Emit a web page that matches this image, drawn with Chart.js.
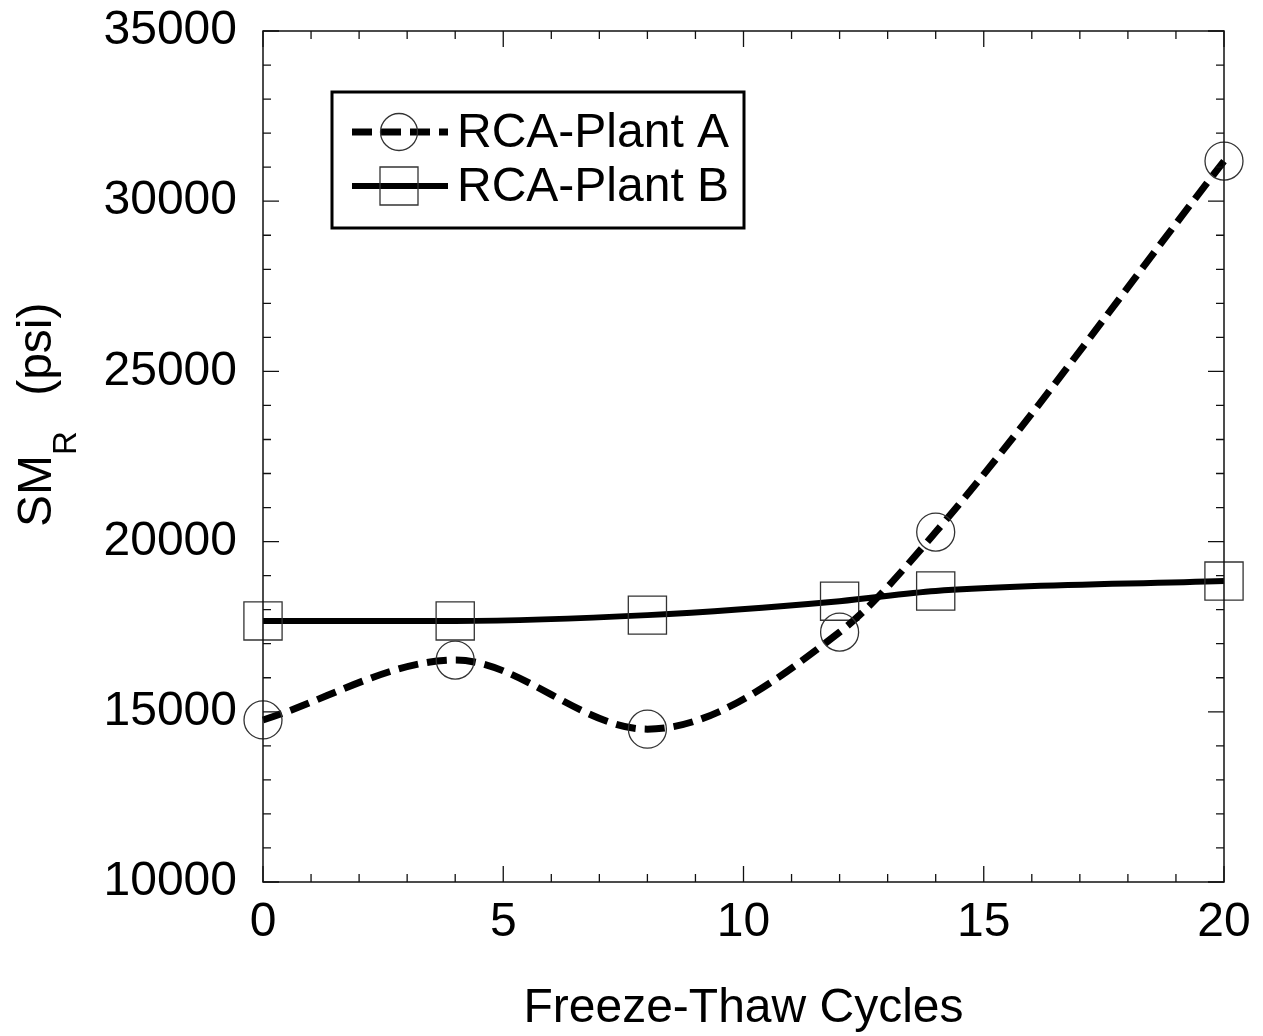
<!DOCTYPE html>
<html>
<head>
<meta charset="utf-8">
<script src="https://cdn.jsdelivr.net/npm/chart.js@4.4.0/dist/chart.umd.min.js"></script>
<style>
  html, body { margin: 0; padding: 0; background: #fff; }
  #wrap { width: 1263px; height: 1036px; }
</style>
</head>
<body>
<div id="wrap"><canvas id="smrChart" width="1263" height="1036"></canvas></div>
<script>
var cycles = [0, 4, 8, 12, 14, 20];
var plantA = [14760, 16520, 14490, 17340, 20280, 31180];
var plantB = [17670, 17670, 17840, 18250, 18550, 18840];
var seriesNames = ['RCA-Plant A', 'RCA-Plant B'];
var xTitle = 'Freeze-Thaw Cycles';
var yTitleMain = 'SM';
var yTitleSub = 'R';
var yTitleTail = ' (psi)';

var FONT = "'Liberation Sans', Arial, sans-serif";
var FS = 48;

function toPoints(ys) {
  return cycles.map(function (c, i) { return { x: c, y: ys[i] }; });
}

// ticks on all four sides, pointing in, plus the box and the titles
var framePlugin = {
  id: 'frame',
  afterDraw: function (chart) {
    var ctx = chart.ctx;
    var a = chart.chartArea;
    var xs = chart.scales.x, ys = chart.scales.y;
    ctx.save();
    ctx.strokeStyle = '#111';
    ctx.lineWidth = 1.5;
    ctx.strokeRect(a.left, a.top, a.right - a.left, a.bottom - a.top);

    ctx.lineWidth = 1.3;
    ctx.beginPath();
    for (var v = 0; v <= 20; v++) {
      var px = xs.getPixelForValue(v);
      var len = (v % 5 === 0) ? 16 : 8;
      ctx.moveTo(px, a.bottom); ctx.lineTo(px, a.bottom - len);
      ctx.moveTo(px, a.top); ctx.lineTo(px, a.top + len);
    }
    for (var w = 10000; w <= 35000; w += 1000) {
      var py = ys.getPixelForValue(w);
      var l2 = (w % 5000 === 0) ? 16 : 8;
      ctx.moveTo(a.left, py); ctx.lineTo(a.left + l2, py);
      ctx.moveTo(a.right, py); ctx.lineTo(a.right - l2, py);
    }
    ctx.stroke();

    // x title
    ctx.fillStyle = '#000';
    ctx.font = FS + 'px ' + FONT;
    ctx.textAlign = 'center';
    ctx.textBaseline = 'alphabetic';
    ctx.fillText(xTitle, (a.left + a.right) / 2, 1022);

    // y title with subscript
    ctx.translate(51, 527);
    ctx.rotate(-Math.PI / 2);
    ctx.textAlign = 'left';
    ctx.font = FS + 'px ' + FONT;
    ctx.fillText(yTitleMain, 0, 0);
    var w1 = ctx.measureText(yTitleMain).width;
    ctx.font = '33px ' + FONT;
    ctx.fillText(yTitleSub, w1, 25);
    var w2 = ctx.measureText(yTitleSub).width + 22;
    ctx.font = FS + 'px ' + FONT;
    ctx.fillText(yTitleTail, w1 + w2, 0);
    ctx.restore();

    // legend
    ctx.save();
    ctx.strokeStyle = '#000';
    ctx.lineWidth = 3;
    ctx.strokeRect(332, 92, 412, 136);
    var rows = [132, 186];
    chart.data.datasets.forEach(function (ds, i) {
      var ry = rows[i];
      ctx.beginPath();
      ctx.lineWidth = ds.borderWidth;
      ctx.strokeStyle = '#000';
      ctx.setLineDash(ds.borderDash || []);
      ctx.moveTo(352, ry); ctx.lineTo(448, ry);
      ctx.stroke();
      ctx.setLineDash([]);
      ctx.lineWidth = 1.3;
      ctx.strokeStyle = '#333';
      ctx.beginPath();
      if (ds.pointStyle === 'circle') {
        ctx.arc(399, ry, 18.5, 0, Math.PI * 2);
      } else {
        ctx.rect(380, ry - 19, 38, 38);
      }
      ctx.stroke();
      ctx.fillStyle = '#000';
      ctx.font = FS + 'px ' + FONT;
      ctx.textAlign = 'left';
      ctx.textBaseline = 'middle';
      ctx.fillText(ds.label, 457, ry + 2);
    });
    ctx.restore();
  }
};

var ctx = document.getElementById('smrChart').getContext('2d');
new Chart(ctx, {
  type: 'line',
  data: {
    datasets: [{
      label: seriesNames[0],
      data: toPoints(plantA),
      borderColor: '#000',
      borderWidth: 7,
      borderDash: [20, 9],
      cubicInterpolationMode: 'monotone',
      pointStyle: 'circle',
      pointRadius: 19,
      pointBorderWidth: 1.3,
      pointBorderColor: '#333',
      pointBackgroundColor: 'rgba(0,0,0,0)',
      fill: false,
      clip: false
    }, {
      label: seriesNames[1],
      data: toPoints(plantB),
      borderColor: '#000',
      borderWidth: 6,
      cubicInterpolationMode: 'monotone',
      pointStyle: 'rect',
      pointRadius: 27,
      pointBorderWidth: 1.3,
      pointBorderColor: '#333',
      pointBackgroundColor: 'rgba(0,0,0,0)',
      fill: false,
      clip: false
    }]
  },
  options: {
    responsive: false,
    animation: false,
    events: [],
    layout: { padding: { top: 31, right: 39, left: 0, bottom: 0 } },
    plugins: { legend: { display: false }, tooltip: { enabled: false } },
    scales: {
      x: {
        type: 'linear',
        min: 0, max: 20,
        afterFit: function (s) { s.height = 154; s.paddingLeft = 0; s.paddingRight = 0; },
        grid: { display: false, drawTicks: false },
        border: { display: false },
        ticks: {
          stepSize: 5, padding: 12, color: '#000', maxRotation: 0,
          font: { family: FONT, size: FS },
          callback: function (v) { return String(v); }
        }
      },
      y: {
        type: 'linear',
        min: 10000, max: 35000,
        afterFit: function (s) { s.width = 263; s.paddingTop = 0; s.paddingBottom = 0; },
        grid: { display: false, drawTicks: false },
        border: { display: false },
        ticks: {
          stepSize: 5000, padding: 26, color: '#000',
          font: { family: FONT, size: FS },
          callback: function (v) { return String(v); }
        }
      }
    }
  },
  plugins: [framePlugin]
});
</script>
</body>
</html>
